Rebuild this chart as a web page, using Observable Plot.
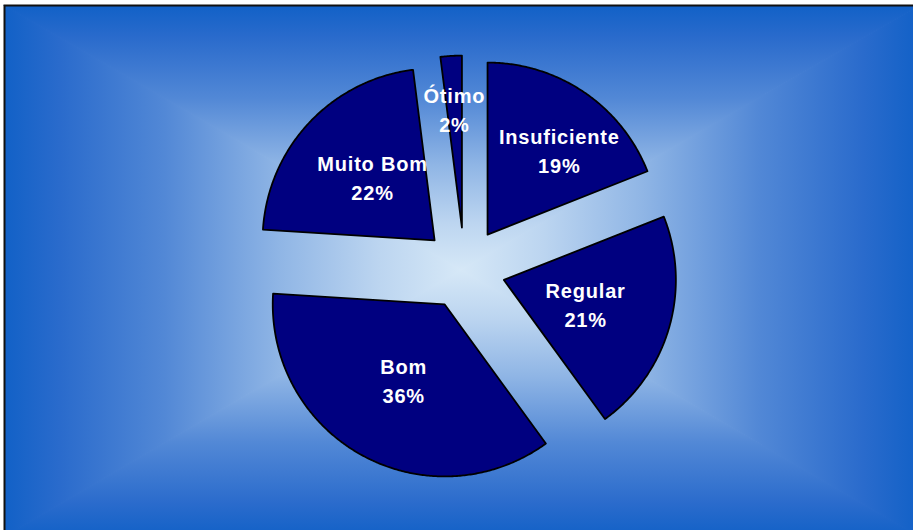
<!DOCTYPE html>
<html><head><meta charset="utf-8">
<script src="https://cdn.jsdelivr.net/npm/d3@7"></script>
<script src="https://cdn.jsdelivr.net/npm/@observablehq/plot@0.6"></script>
<style>html,body{margin:0;padding:0;background:#fff;overflow:hidden} svg{display:block}</style>
</head><body><div id="chart"></div>
<script>
const categories = ["Insuficiente", "Regular", "Bom", "Muito Bom", "Ótimo"];
const values = [19, 21, 36, 22, 2];
const pctLabels = ["19%", "21%", "36%", "22%", "2%"];

const W = 913, H = 530;
const R = 172, CX = 464, CY = 268;
const EXPLODE = 41 / R;

const total = d3.sum(values);
let acc = 0;
const slices = categories.map((c, i) => {
  const a0 = acc / total * 2 * Math.PI;
  acc += values[i];
  const a1 = acc / total * 2 * Math.PI;
  return {c, i, a0, a1, mid: (a0 + a1) / 2, v: values[i] / total};
});

const polys = [];
slices.forEach(s => {
  const ox = EXPLODE * Math.sin(s.mid), oy = EXPLODE * Math.cos(s.mid);
  polys.push({slice: s.c, x: ox, y: oy});
  const n = Math.max(2, Math.ceil((s.a1 - s.a0) / (Math.PI / 360)));
  for (let k = 0; k <= n; k++) {
    const a = s.a0 + (s.a1 - s.a0) * k / n;
    polys.push({slice: s.c, x: ox + Math.sin(a), y: oy + Math.cos(a)});
  }
});

// label placement inside each exploded slice (radial fraction, small angular nudge for narrow/mid slices)
const labels = slices.map((s, i) => {
  const f = s.v >= 0.2 ? (s.mid > 1.5 * Math.PI ? 0.52 : 0.495) : 0.65 + (0.19 - s.v) * 0.28;
  const ang = s.mid + (s.v > 0.1 && s.v < 0.2 ? 0.1 : 0) + (s.mid > 1.5 * Math.PI && s.v >= 0.2 ? 0.05 : 0);
  const ox = EXPLODE * Math.sin(s.mid), oy = EXPLODE * Math.cos(s.mid);
  return {
    x: ox + f * Math.sin(ang),
    y: oy + f * Math.cos(ang),
    text: categories[i] + "\n" + pctLabels[i]
  };
});

const plot = Plot.plot({
  width: W, height: H,
  margin: 0,
  x: {domain: [-CX / R, (W - CX) / R], axis: null},
  y: {domain: [-(H - CY) / R, CY / R], axis: null},
  marks: [
    Plot.line(polys, {x: "x", y: "y", z: "slice", curve: "linear-closed", fill: "#000080", stroke: "#000", strokeWidth: 1.8, strokeLinejoin: "round"}),
    Plot.text(labels, {x: "x", y: "y", text: "text", fill: "white", fontSize: 20, fontWeight: "bold",
      fontFamily: "'Liberation Sans', Arial, Helvetica, sans-serif", lineHeight: 1.45, lineAnchor: "middle"})
  ]
});

// background: rectangular path gradient + border
const svg = d3.select(plot);
const x0 = 5, y0 = 6, x1 = 918, y1 = 536, gcx = 461, gcy = 270;
const defs = svg.insert("defs", ":first-child");
const stops = [[0, "#1261c7"], [0.12, "#2a6bcc"], [0.35, "#5288d6"], [0.6, "#8fb5e5"], [0.82, "#bcd5f0"], [1, "#d6e8f7"]];
function grad(id, ax, ay, bx, by) {
  const g = defs.append("linearGradient").attr("id", id).attr("gradientUnits", "userSpaceOnUse")
    .attr("x1", ax).attr("y1", ay).attr("x2", bx).attr("y2", by);
  stops.forEach(([o, c]) => g.append("stop").attr("offset", o).attr("stop-color", c));
}
grad("gT", gcx, y0, gcx, gcy);
grad("gB", gcx, y1, gcx, gcy);
grad("gL", x0, gcy, gcx, gcy);
grad("gR", x1, gcy, gcx, gcy);
const bg = svg.insert("g", "defs + *");
const tri = [
  ["gT", [[x0, y0], [x1, y0], [gcx, gcy]]],
  ["gB", [[x0, y1], [x1, y1], [gcx, gcy]]],
  ["gL", [[x0, y0], [x0, y1], [gcx, gcy]]],
  ["gR", [[x1, y0], [x1, y1], [gcx, gcy]]]
];
tri.forEach(([id, pts]) => bg.append("polygon").attr("points", pts.map(p => p.join(",")).join(" "))
  .attr("fill", `url(#${id})`).attr("stroke", `url(#${id})`).attr("stroke-width", 1.2));
bg.append("rect").attr("x", x0 - 0.5).attr("y", y0 - 0.5).attr("width", x1 - x0 + 10).attr("height", y1 - y0 + 10)
  .attr("fill", "none").attr("stroke", "#111").attr("stroke-width", 2);

svg.selectAll("text").style("letter-spacing", "0.8px");
document.getElementById("chart").appendChild(plot);
</script>
</body></html>
